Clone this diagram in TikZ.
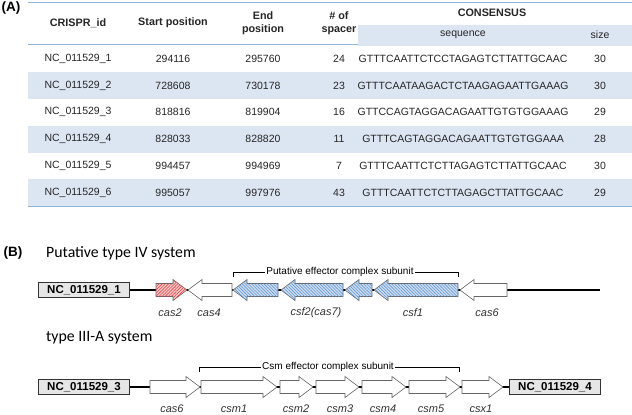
\documentclass[tikz,border=0pt]{standalone}
\usepackage{fontspec}
\setmainfont{Liberation Sans}
\newfontfamily\titlefont{Carlito}
\usepackage{tikz}
\usetikzlibrary{patterns.meta}

\definecolor{bandblue}{RGB}{220,230,242}
\definecolor{ruleblue}{RGB}{149,179,215}
\definecolor{boxgray}{RGB}{230,230,230}
\definecolor{redfill}{RGB}{250,200,200}
\definecolor{hatchred}{RGB}{230,70,70}
\definecolor{bluefill}{RGB}{205,222,242}
\definecolor{hatchblue}{RGB}{100,150,210}

% gene arrows: style, tail/tip x, tip/tail x, y
\newcommand{\generight}[4]{%
  \draw[#1] (#2,#4-6.5) -- (#3-14,#4-6.5) -- (#3-14,#4-10.5) -- (#3,#4)
    -- (#3-14,#4+10.5) -- (#3-14,#4+6.5) -- (#2,#4+6.5) -- cycle;}
\newcommand{\geneleft}[4]{%
  \draw[#1] (#3,#4-6.5) -- (#2+14,#4-6.5) -- (#2+14,#4-10.5) -- (#2,#4)
    -- (#2+14,#4+10.5) -- (#2+14,#4+6.5) -- (#3,#4+6.5) -- cycle;}

\tikzset{
  cell/.style={font=\fontsize{10.5}{12}\selectfont, text=black!85, inner sep=0pt},
  headcell/.style={cell, font=\fontsize{10.8}{13}\selectfont\bfseries, align=center},
  rule/.style={draw=ruleblue, line width=1pt},
  whitegene/.style={draw=black!60, fill=white, line width=0.6pt},
  redgene/.style={draw=black!60, fill=redfill, line width=0.6pt,
    postaction={pattern={Lines[angle=45,distance=2.2pt,line width=0.6pt]},
      pattern color=hatchred}},
  bluegene/.style={draw=black!60, fill=bluefill, line width=0.6pt,
    postaction={pattern={Lines[angle=-45,distance=2.2pt,line width=0.6pt]},
      pattern color=hatchblue}},
  idbox/.style={draw=black!80, fill=boxgray, line width=0.7pt, minimum width=91pt,
    minimum height=15pt, inner sep=0pt, font=\fontsize{11.5}{13}\selectfont\bfseries},
  genelabel/.style={font=\fontsize{11}{13}\selectfont\itshape, text=black!80, inner sep=0pt},
  bracetext/.style={font=\fontsize{10}{12}\selectfont, fill=white, inner sep=1pt},
  backbone/.style={line width=2.5pt},
  paneltitle/.style={font=\titlefont\fontsize{15.8}{18}\selectfont, anchor=west, inner sep=0pt},
  panel/.style={font=\fontsize{13.5}{15}\selectfont\bfseries, inner sep=0pt}
}

\begin{document}
\begin{tikzpicture}[x=1pt, y=-1pt]
  \useasboundingbox (0,0) rectangle (632,415);
  \fill[white] (0,0) rectangle (632,415);

  % (A) table
  \node[panel] (labelA) at (11,8) {(A)};
  \fill[bandblue] (358,25) rectangle (632,45.5);
  \foreach \r in {2,4,6}
    \fill[bandblue] (28,{45.5+(\r-1)*26.75}) rectangle (632,{45.5+\r*26.75});
  \draw[rule] (28,2) -- (632,2);
  \draw[rule] (28,44.5) -- (358,44.5);
  \draw[rule] (28,206) -- (632,206);

  \node[headcell] (hId) at (78,23) {CRISPR\_id};
  \node[headcell] (hStart) at (173,23) {Start position};
  \node[headcell] (hEnd) at (263,23) {End\\position};
  \node[headcell] (hSpacer) at (339,23) {\# of\\spacer};
  \node[headcell] (hCons) at (492,13) {CONSENSUS};
  \node[cell] (hSeq) at (463,35) {sequence};
  \node[cell] (hSize) at (600,35) {size};

  \foreach \i/\st/\en/\sp/\sq/\sz in {
      1/294116/295760/24/GTTTCAATTCTCCTAGAGTCTTATTGCAAC/30,
      2/728608/730178/23/GTTTCAATAAGACTCTAAGAGAATTGAAAG/30,
      3/818816/819904/16/GTTCCAGTAGGACAGAATTGTGTGGAAAG/29,
      4/828033/828820/11/GTTTCAGTAGGACAGAATTGTGTGGAAA/28,
      5/994457/994969/7/GTTTCAATTCTCTTAGAGTCTTATTGCAAC/30,
      6/995057/997976/43/GTTTCAATTCTCTTAGAGCTTATTGCAAC/29} {
    \pgfmathsetmacro\yy{45.5+(\i-0.5)*26.75}
    \node[cell] (id\i) at (78,\yy) {NC\_011529\_\i};
    \node[cell] (start\i) at (173,\yy) {\st};
    \node[cell] (end\i) at (263,\yy) {\en};
    \node[cell] (spacer\i) at (339,\yy) {\sp};
    \node[cell] (seq\i) at (463,\yy) {\sq};
    \node[cell] (size\i) at (600,\yy) {\sz};
  }

  % (B) gene maps
  \node[panel] (labelB) at (13,253) {(B)};
  \node[paneltitle] (titleIV) at (46,253) {Putative type IV system};
  \node[paneltitle] (titleIIIA) at (46,338) {type III-A system};

  % type IV locus
  \node[idbox] (crispr1) at (84,290) {NC\_011529\_1};
  \coordinate (end1) at (600,290);
  \draw[backbone] (crispr1.east) -- (end1);
  \generight{redgene}{156}{187}{290}
  \geneleft{whitegene}{188}{232}{290}
  \geneleft{bluegene}{233}{278}{290}
  \geneleft{bluegene}{281}{343}{290}
  \geneleft{bluegene}{345}{372}{290}
  \geneleft{bluegene}{374}{458}{290}
  \geneleft{whitegene}{460}{507}{290}
  \node[genelabel] (cas2a) at (170,313) {cas2};
  \node[genelabel] (cas4a) at (209,313) {cas4};
  \node[genelabel] (csf2a) at (316,313) {csf2(cas7)};
  \node[genelabel] (csf1a) at (413,313) {csf1};
  \node[genelabel] (cas6a) at (487,313) {cas6};
  \node[bracetext] (brace1) at (340,272) {Putative effector complex subunit};
  \draw[line width=0.5pt] (233,277) -- (233,272) -- (brace1.west);
  \draw[line width=0.5pt] (brace1.east) -- (458,272) -- (458,277);

  % type III-A locus
  \node[idbox] (crispr3) at (84,387) {NC\_011529\_3};
  \node[idbox] (crispr4) at (555,387) {NC\_011529\_4};
  \draw[backbone] (crispr3.east) -- (crispr4.west);
  \generight{whitegene}{150}{200}{387}
  \generight{whitegene}{201}{277}{387}
  \generight{whitegene}{280}{313}{387}
  \generight{whitegene}{316}{359}{387}
  \generight{whitegene}{362}{406}{387}
  \generight{whitegene}{409}{460}{387}
  \generight{whitegene}{462}{503}{387}
  \node[genelabel] (cas6b) at (172,409) {cas6};
  \node[genelabel] (csm1b) at (234,409) {csm1};
  \node[genelabel] (csm2b) at (296,409) {csm2};
  \node[genelabel] (csm3b) at (340,409) {csm3};
  \node[genelabel] (csm4b) at (383,409) {csm4};
  \node[genelabel] (csm5b) at (431,409) {csm5};
  \node[genelabel] (csx1b) at (481,409) {csx1};
  \node[bracetext] (brace2) at (328,367) {Csm effector complex subunit};
  \draw[line width=0.5pt] (199,372) -- (199,367) -- (brace2.west);
  \draw[line width=0.5pt] (brace2.east) -- (459,367) -- (459,372);
\end{tikzpicture}
\end{document}
